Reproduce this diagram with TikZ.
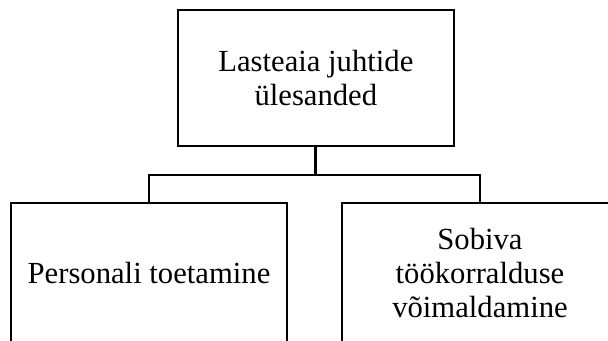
\documentclass[tikz,border=0pt]{standalone}
\usepackage{fontspec}
\setmainfont{Liberation Serif}
\usepackage{tikz}
\usetikzlibrary{calc,positioning}

\tikzset{
	taskbox/.style={draw,line width=1.5pt,minimum width=207pt,inner sep=0pt,outer sep=0pt,align=center,font=\fontsize{23}{25.3}\selectfont},
	link/.style={line width=1.5pt},
}

\begin{document}
\begin{tikzpicture}[x=0.75pt,y=-0.75pt]
		\useasboundingbox (0,0) rectangle (608,340);
		\clip (0,0) rectangle (608,340);
		\node[taskbox,minimum height=102pt] (juhid) at (315.85,78) {Lasteaia juhtide\\ülesanded};
		\node[taskbox,minimum height=105pt] (personal) at (149,273) {Personali toetamine};
		\node[taskbox,minimum height=105pt] (korraldus) at (480,273) {Sobiva\\töökorralduse\\võimaldamine};
		\coordinate (bar) at (0,175);
		\draw[link,line width=2.25pt] (juhid.south)--(juhid.south |- bar);
		\draw[link] (personal.north)--(personal.north |- bar)--(korraldus.north |- bar)--(korraldus.north);
		
	\end{tikzpicture}
\end{document}
